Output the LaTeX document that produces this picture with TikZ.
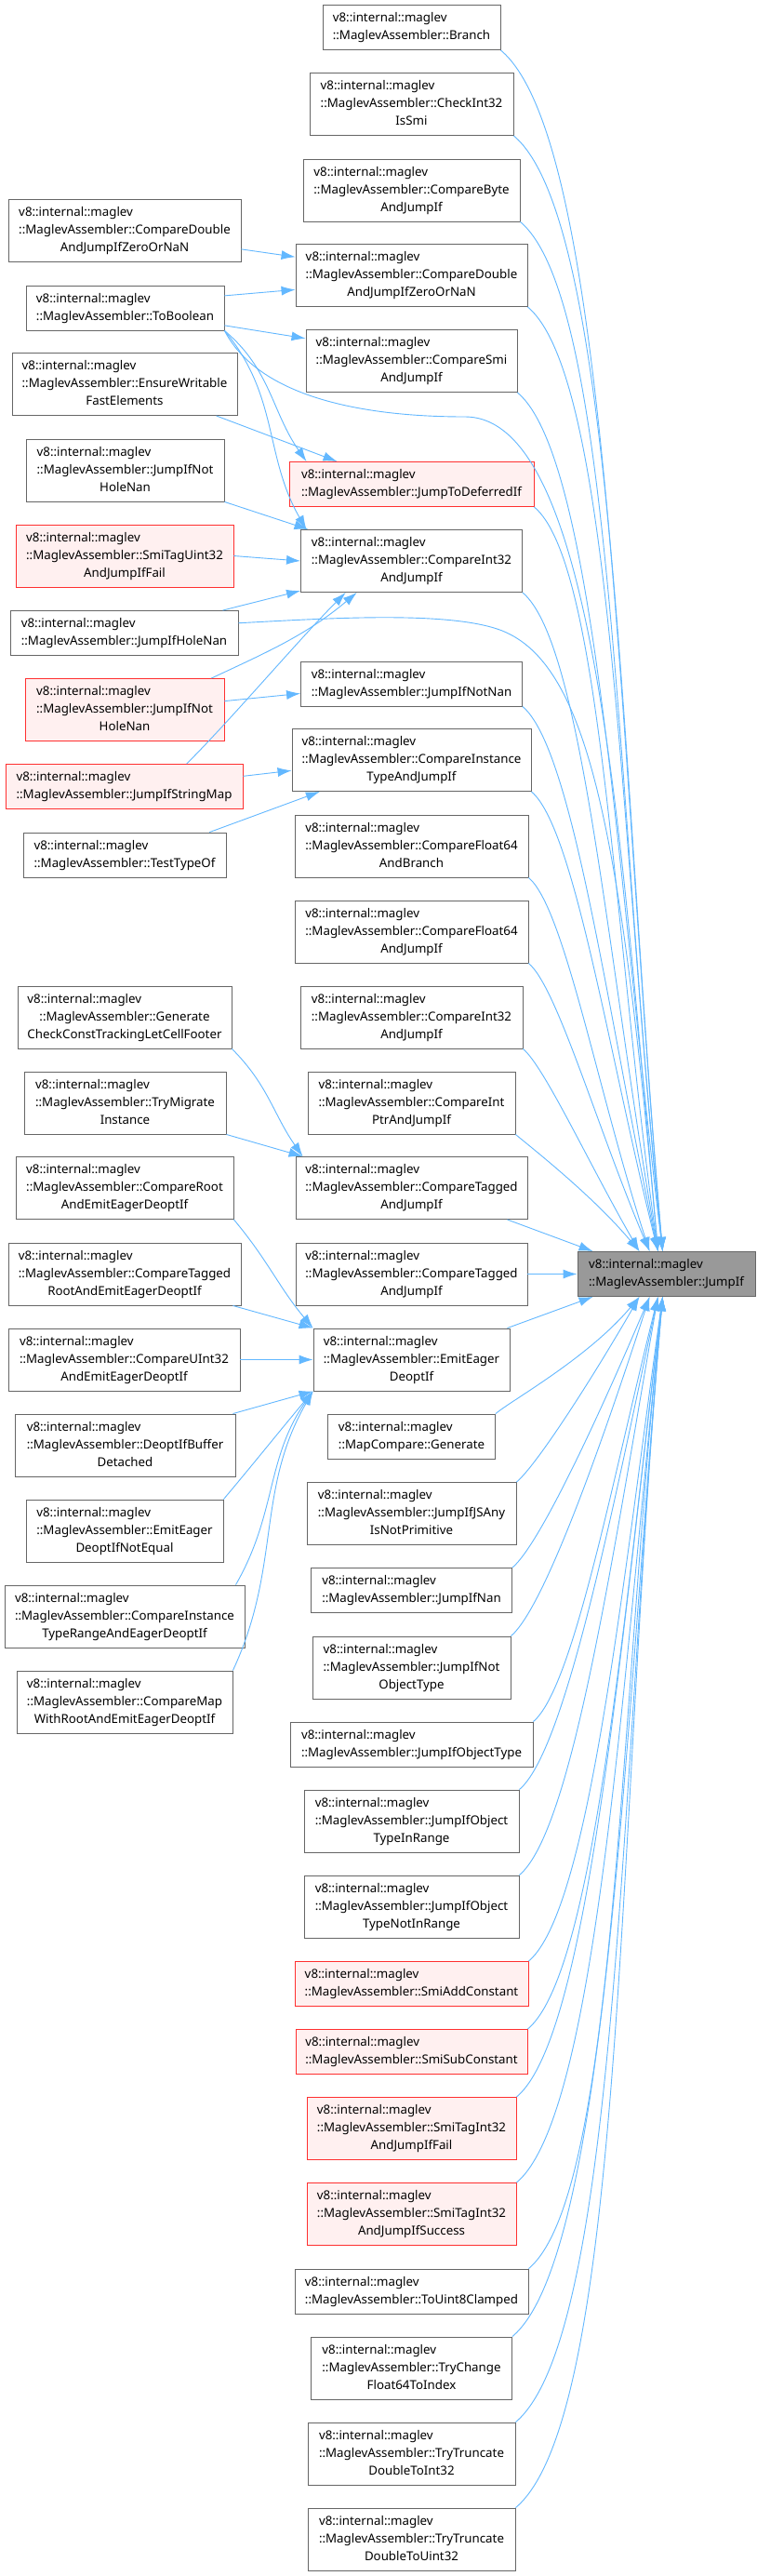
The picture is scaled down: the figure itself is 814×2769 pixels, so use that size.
\documentclass[tikz,border=0pt]{standalone}
\usepackage{fontspec}
\setmainfont{Noto Sans}
\usetikzlibrary{arrows.meta}
\definecolor{edgeblue}{HTML}{63B8FF}
\definecolor{boxgray}{HTML}{666666}
\definecolor{undocred}{HTML}{FF3030}
\definecolor{undocfill}{HTML}{FFF0F0}
\definecolor{rootfill}{HTML}{999999}
\newcommand{\lbltwo}[1]{\begin{tabular}{@{}c@{}}\multicolumn{1}{@{}l@{}}{v8::internal::maglev}\\#1\end{tabular}}
\newcommand{\lblthree}[2]{\begin{tabular}{@{}c@{}}\multicolumn{1}{@{}l@{}}{v8::internal::maglev}\\#1\\#2\end{tabular}}
\begin{document}
\begin{tikzpicture}[x=1pt, y=1pt,
  fn/.style={draw=boxgray, fill=white, line width=0.9pt, inner xsep=4pt, inner ysep=5pt, font=\fontsize{13.3}{19}\selectfont},
  undoc/.style={fn, draw=undocred, fill=undocfill},
  root/.style={fn, fill=rootfill},
  wd/.style={minimum width=#1pt},
  link/.style={edgeblue, line width=0.9pt, -{Latex[length=15pt, width=10pt]}}]
\path[use as bounding box, fill=white] (0,0) rectangle (814,-2769);
% target
\node[root, wd=191] (jumpif) at (716.5,-1369.5) {\lbltwo{::MaglevAssembler::JumpIf}};
% direct callers
\node[fn, wd=191] (branch) at (442.5,-29.5) {\lbltwo{::MaglevAssembler::Branch}};
\node[fn, wd=219] (chki32) at (442.5,-112) {\lblthree{::MaglevAssembler::CheckInt32}{IsSmi}};
\node[fn, wd=233] (cmpbyte) at (442.5,-204.5) {\lblthree{::MaglevAssembler::CompareByte}{AndJumpIf}};
\node[fn, wd=249] (cmpdbl) at (442.5,-296) {\lblthree{::MaglevAssembler::CompareDouble}{AndJumpIfZeroOrNaN}};
\node[fn, wd=227] (cmpsmi) at (442.5,-388) {\lblthree{::MaglevAssembler::CompareSmi}{AndJumpIf}};
\node[undoc, wd=263] (jtd) at (442.5,-520.5) {\lbltwo{::MaglevAssembler::JumpToDeferredIf}};
\node[fn, wd=238] (cmpi32a) at (442.5,-603) {\lblthree{::MaglevAssembler::CompareInt32}{AndJumpIf}};
\node[fn, wd=238] (jnotnan) at (442.5,-735) {\lbltwo{::MaglevAssembler::JumpIfNotNan}};
\node[fn, wd=257] (cmpinst) at (442.5,-817) {\lblthree{::MaglevAssembler::CompareInstance}{TypeAndJumpIf}};
\node[fn, wd=251] (cmpf64br) at (442.5,-909.5) {\lblthree{::MaglevAssembler::CompareFloat64}{AndBranch}};
\node[fn, wd=251] (cmpf64j) at (442.5,-1001.5) {\lblthree{::MaglevAssembler::CompareFloat64}{AndJumpIf}};
\node[fn, wd=239] (cmpi32b) at (442.5,-1093.5) {\lblthree{::MaglevAssembler::CompareInt32}{AndJumpIf}};
\node[fn, wd=223] (cmpiptr) at (442.5,-1185.5) {\lblthree{::MaglevAssembler::CompareInt}{PtrAndJumpIf}};
\node[fn, wd=249] (cmptaga) at (442.5,-1277) {\lblthree{::MaglevAssembler::CompareTagged}{AndJumpIf}};
\node[fn, wd=249] (cmptagb) at (442.5,-1369.5) {\lblthree{::MaglevAssembler::CompareTagged}{AndJumpIf}};
\node[fn, wd=211] (emiteager) at (442.5,-1461.5) {\lblthree{::MaglevAssembler::EmitEager}{DeoptIf}};
\node[fn, wd=180] (mapcmp) at (442.5,-1544) {\lbltwo{::MapCompare::Generate}};
\node[fn, wd=225] (jjsany) at (442.5,-1627) {\lblthree{::MaglevAssembler::JumpIfJSAny}{IsNotPrimitive}};
\node[fn, wd=216] (jnan) at (442.5,-1709.5) {\lbltwo{::MaglevAssembler::JumpIfNan}};
\node[fn, wd=213] (jnotobj) at (442.5,-1792.5) {\lblthree{::MaglevAssembler::JumpIfNot}{ObjectType}};
\node[fn, wd=261] (jobj) at (442.5,-1875) {\lbltwo{::MaglevAssembler::JumpIfObjectType}};
\node[fn, wd=231] (jobjin) at (442.5,-1957.5) {\lblthree{::MaglevAssembler::JumpIfObject}{TypeInRange}};
\node[fn, wd=231] (jobjout) at (442.5,-2049.5) {\lblthree{::MaglevAssembler::JumpIfObject}{TypeNotInRange}};
\node[undoc, wd=251] (smiadd) at (442.5,-2132.5) {\lbltwo{::MaglevAssembler::SmiAddConstant}};
\node[undoc, wd=249] (smisub) at (442.5,-2205.5) {\lbltwo{::MaglevAssembler::SmiSubConstant}};
\node[undoc, wd=225] (smitagfail) at (442.5,-2288) {\lblthree{::MaglevAssembler::SmiTagInt32}{AndJumpIfFail}};
\node[undoc, wd=225] (smitagok) at (442.5,-2380) {\lblthree{::MaglevAssembler::SmiTagInt32}{AndJumpIfSuccess}};
\node[fn, wd=251] (touint8) at (442.5,-2463) {\lbltwo{::MaglevAssembler::ToUint8Clamped}};
\node[fn, wd=216] (trychg) at (442.5,-2545.5) {\lblthree{::MaglevAssembler::TryChange}{Float64ToIndex}};
\node[fn, wd=223] (trunci) at (442.5,-2637.5) {\lblthree{::MaglevAssembler::TryTruncate}{DoubleToInt32}};
\node[fn, wd=223] (truncu) at (442.5,-2729.5) {\lblthree{::MaglevAssembler::TryTruncate}{DoubleToUint32}};
% second level callers
\node[fn, wd=250] (cmpdblL) at (134,-248) {\lblthree{::MaglevAssembler::CompareDouble}{AndJumpIfZeroOrNaN}};
\node[fn, wd=213] (tobool) at (134.5,-331) {\lbltwo{::MaglevAssembler::ToBoolean}};
\node[fn, wd=242] (ensure) at (134,-413) {\lblthree{::MaglevAssembler::EnsureWritable}{FastElements}};
\node[fn, wd=213] (jnotholeA) at (134.5,-505.5) {\lblthree{::MaglevAssembler::JumpIfNot}{HoleNan}};
\node[undoc, wd=234] (smitagu32) at (134,-597.5) {\lblthree{::MaglevAssembler::SmiTagUint32}{AndJumpIfFail}};
\node[fn, wd=245] (jholenan) at (133.5,-680.5) {\lbltwo{::MaglevAssembler::JumpIfHoleNan}};
\node[undoc, wd=214] (jnotholeB) at (134,-763) {\lblthree{::MaglevAssembler::JumpIfNot}{HoleNan}};
\node[undoc, wd=255] (jstrmap) at (133.5,-845.5) {\lbltwo{::MaglevAssembler::JumpIfStringMap}};
\node[fn, wd=218] (testtypeof) at (134,-919) {\lbltwo{::MaglevAssembler::TestTypeOf}};
\node[fn, wd=230] (genfooter) at (134,-1093.5) {\lblthree{::MaglevAssembler::Generate}{CheckConstTrackingLetCellFooter}};
\node[fn, wd=217] (trymigrate) at (134.5,-1185.5) {\lblthree{::MaglevAssembler::TryMigrate}{Instance}};
\node[fn, wd=234] (cmproot) at (134,-1277) {\lblthree{::MaglevAssembler::CompareRoot}{AndEmitEagerDeoptIf}};
\node[fn, wd=250] (cmptagroot) at (134,-1369.5) {\lblthree{::MaglevAssembler::CompareTagged}{RootAndEmitEagerDeoptIf}};
\node[fn, wd=249] (cmpu32) at (133.5,-1461.5) {\lblthree{::MaglevAssembler::CompareUInt32}{AndEmitEagerDeoptIf}};
\node[fn, wd=237] (deoptbuf) at (134.5,-1553.5) {\lblthree{::MaglevAssembler::DeoptIfBuffer}{Detached}};
\node[fn, wd=212] (emitnoteq) at (134,-1645.5) {\lblthree{::MaglevAssembler::EmitEager}{DeoptIfNotEqual}};
\node[fn, wd=258] (cmpinstrange) at (134,-1737.5) {\lblthree{::MaglevAssembler::CompareInstance}{TypeRangeAndEagerDeoptIf}};
\node[fn, wd=232] (cmpmaproot) at (134,-1829.5) {\lblthree{::MaglevAssembler::CompareMap}{WithRootAndEmitEagerDeoptIf}};
\coordinate (tbvia) at (500,-448);
\coordinate (hnvia) at (540,-678);
% edges into JumpIf from above
\draw[link] (branch.south east) .. controls +(-40:152) and +(95:560) .. ([xshift=-4pt]jumpif.north);
\draw[link] (chki32.south east) .. controls +(-40:142) and +(95:520) .. ([xshift=-4pt]jumpif.north);
\draw[link] (cmpbyte.south east) .. controls +(-40:131) and +(96:481) .. ([xshift=-4pt]jumpif.north);
\draw[link] (cmpdbl.south east) .. controls +(-40:120) and +(96:441) .. ([xshift=-4pt]jumpif.north);
\draw[link] (cmpsmi.south east) .. controls +(-40:110) and +(97:402) .. ([xshift=-4pt]jumpif.north);
\draw[link] (jtd.south east) .. controls +(-40:95) and +(98:349) .. ([xshift=-9pt]jumpif.north);
\draw[link] (cmpi32a.south east) .. controls +(-40:85) and +(100:311) .. ([xshift=-9pt]jumpif.north);
\draw[link] (jnotnan.south east) .. controls +(-40:71) and +(102:260) .. ([xshift=-9pt]jumpif.north);
\draw[link] (cmpinst.south east) .. controls +(-40:60) and +(104:220) .. ([xshift=-9pt]jumpif.north);
\draw[link] (cmpf64br.south east) .. controls +(-40:50) and +(108:182) .. ([xshift=-18pt]jumpif.north);
\draw[link] (cmpf64j.south east) .. controls +(-40:40) and +(113:145) .. ([xshift=-18pt]jumpif.north);
\draw[link] (cmpi32b.south east) .. controls +(-40:30) and +(120:108) .. ([xshift=-29pt]jumpif.north);
\draw[link] (cmpiptr.south east) .. controls +(-40:21) and +(130:79) .. ([xshift=-29pt]jumpif.north);
\draw[link] ([xshift=-22pt]cmptaga.south east) -- ([xshift=17pt]jumpif.north west);
\draw[link] (cmptagb.east) -- (jumpif.west);
\draw[link] ([xshift=-3pt]emiteager.north east) -- ([xshift=17pt]jumpif.south west);
% edges into JumpIf from below
\draw[link] (mapcmp.north east) .. controls +(40:23) and +(-130:86) .. ([xshift=-29pt]jumpif.south);
\draw[link] (jjsany.north east) .. controls +(40:28) and +(-120:103) .. ([xshift=-29pt]jumpif.south);
\draw[link] (jnan.north east) .. controls +(40:38) and +(-113:140) .. ([xshift=-18pt]jumpif.south);
\draw[link] (jnotobj.north east) .. controls +(40:46) and +(-108:170) .. ([xshift=-18pt]jumpif.south);
\draw[link] (jobj.north east) .. controls +(40:56) and +(-104:205) .. ([xshift=-9pt]jumpif.south);
\draw[link] (jobjin.north east) .. controls +(40:64) and +(-102:237) .. ([xshift=-9pt]jumpif.south);
\draw[link] (jobjout.north east) .. controls +(40:75) and +(-100:275) .. ([xshift=-9pt]jumpif.south);
\draw[link] (smiadd.north east) .. controls +(40:85) and +(-98:313) .. ([xshift=-4pt]jumpif.south);
\draw[link] (smisub.north east) .. controls +(40:94) and +(-97:344) .. ([xshift=-4pt]jumpif.south);
\draw[link] (smitagfail.north east) .. controls +(40:102) and +(-97:376) .. ([xshift=-4pt]jumpif.south);
\draw[link] (smitagok.north east) .. controls +(40:113) and +(-96:415) .. ([xshift=-4pt]jumpif.south);
\draw[link] (touint8.north east) .. controls +(40:123) and +(-96:454) .. ([xshift=-4pt]jumpif.south);
\draw[link] (trychg.north east) .. controls +(40:132) and +(-95:486) .. ([xshift=-4pt]jumpif.south);
\draw[link] (trunci.north east) .. controls +(40:143) and +(-95:525) .. ([xshift=-4pt]jumpif.south);
\draw[link] (truncu.north east) .. controls +(40:153) and +(-95:564) .. ([xshift=-4pt]jumpif.south);
% long edges from the left column
\draw[link] (tobool.south east) .. controls +(39,-75) and +(-100,0) .. (tbvia) .. controls +(140,0) and +(-40,450) .. ([xshift=-9pt]jumpif.north);
\draw[link] (jholenan.5) .. controls +(94,5) and +(-56,22) .. (hnvia) .. controls +(93,-37) and +(-40,450) .. ([xshift=-9pt]jumpif.north);
% left column to middle column
\draw[link] (cmpdblL.-9) -- (cmpdbl.171);
\draw[link] (tobool.7) -- (cmpdbl.187);
\draw[link] (tobool.-10.6) -- (cmpsmi.168.5);
\draw[link] (tobool.south east) .. controls +(-40:65) and +(125:65) .. ([xshift=19pt]jtd.north west);
\draw[link] (tobool.south east) .. controls +(-50:91) and +(120:91) .. ([xshift=-2pt]cmpi32a.163);
\draw[link] (ensure.-19.5) -- (jtd.163);
\draw[link] (jnotholeA.south east) -- (cmpi32a.163);
\draw[link] (smitagu32.east) -- (cmpi32a.west);
\draw[link] (jholenan.13.6) -- (cmpi32a.195);
\draw[link] (jnotholeB.20) .. controls +(25:70) and +(-140:70) .. (cmpi32a.-150);
\draw[link] (jnotholeB.5.9) -- (jnotnan.185.7);
\draw[link] (jstrmap.20) .. controls +(45:70) and +(-135:70) .. ([xshift=-12pt]cmpi32a.-150);
\draw[link] (jstrmap.5.6) -- (cmpinst.185.8);
\draw[link] (testtypeof.15) -- (cmpinst.-161);
\draw[link] (genfooter.south east) .. controls +(-45:55) and +(125:55) .. ([xshift=8pt]cmptaga.north west);
\draw[link] (trymigrate.south east) -- ([xshift=8pt]cmptaga.north west);
\draw[link] (cmproot.south east) .. controls +(-50:57) and +(130:57) .. (emiteager.north west);
\draw[link] ([xshift=-9pt]cmptagroot.south east) -- (emiteager.north west);
\draw[link] (cmpu32.east) -- (emiteager.west);
\draw[link] ([xshift=-3pt]deoptbuf.north east) -- (emiteager.south west);
\draw[link] (emitnoteq.north east) .. controls +(50:60) and +(-130:60) .. (emiteager.south west);
\draw[link] ([xshift=-10pt]cmpinstrange.north east) .. controls +(60:88) and +(-125:88) .. (emiteager.south west);
\draw[link] (cmpmaproot.north east) .. controls +(65:123) and +(-120:123) .. (emiteager.south west);
\end{tikzpicture}
\end{document}
